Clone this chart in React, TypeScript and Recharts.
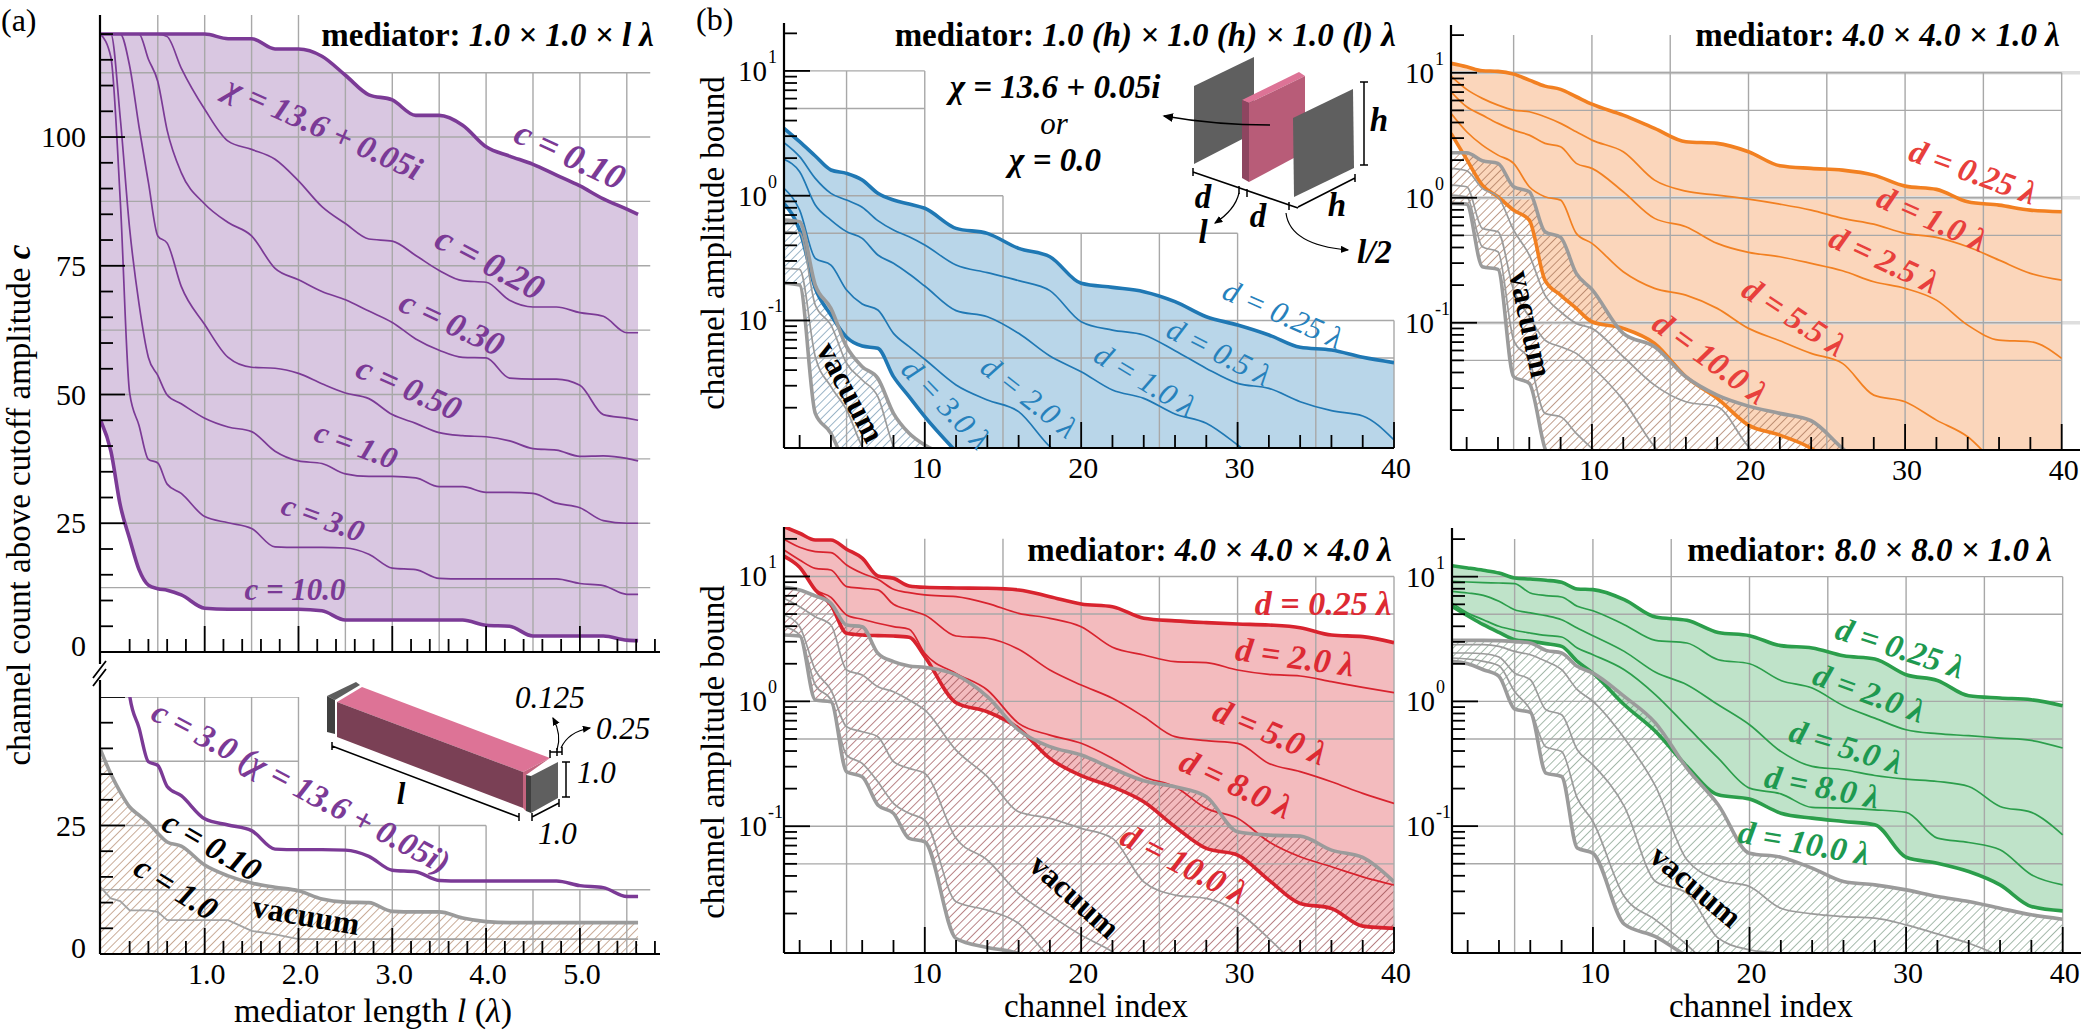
import { ComposedChart, Area, Line, XAxis, YAxis, ReferenceLine } from 'recharts';

const SERIF = '"Liberation Serif", serif';

// (a) mediator length sweep
const lengths = [-0.11, 0, 0.1, 0.2, 0.3, 0.4, 0.5, 0.6, 0.75, 1, 1.25, 1.5, 1.75, 2, 2.25, 2.5, 2.75, 3, 3.25, 3.5, 3.75, 4, 4.25, 4.5, 4.75, 5, 5.25, 5.5, 5.62];
const count010 = [120, 120, 120, 120, 120, 120, 120, 120, 120, 120, 119.1, 119.1, 117.1, 117.1, 115.7, 112, 108.2, 107.2, 104.2, 104.2, 102.3, 98.1, 96.3, 94.7, 92.6, 90.5, 88, 86, 85];
const count020 = [120, 120, 120, 120, 120, 120, 120, 119.5, 113.4, 105.4, 99.2, 97.6, 95.7, 91.5, 86.5, 83.2, 80.2, 79.8, 77, 74.1, 72.1, 71.8, 68.3, 67, 67, 65.9, 65.2, 62, 62];
const count030 = [120, 120, 120, 120, 120, 115.1, 110.8, 101.3, 93.1, 87, 83.4, 80.8, 74.5, 72.3, 70, 68.4, 66.2, 64, 60.8, 58.6, 57.2, 57.1, 53.2, 53, 53, 51.8, 46.1, 45.4, 45];
const count050 = [120, 120, 120, 113.8, 102, 91.2, 80.8, 79.4, 71, 63.6, 57.2, 55.3, 55.1, 54.1, 52.1, 50.3, 49.2, 46.1, 44.4, 42.6, 42, 41.8, 41, 39.5, 39.2, 38, 38.1, 37.6, 37.1];
const count100 = [120, 120, 103.7, 82.2, 67.6, 57.2, 53.7, 49.9, 48.2, 45.4, 43.7, 42.8, 39, 37.1, 36.6, 34.6, 34.1, 34.1, 33.8, 32.1, 32.1, 31, 31, 30.8, 28.9, 28, 25.5, 25, 25];
const count300 = [120, 115.5, 87.7, 50.3, 44, 37.4, 36.7, 32.6, 30.8, 26.3, 25.1, 24, 20.4, 20.3, 20.3, 20.2, 19, 16.3, 16, 14.3, 14.2, 14.2, 14.2, 14.2, 14.2, 13.3, 12.9, 11.2, 11.2];
const count1000 = [45, 39, 28.5, 22, 16, 13, 12.3, 12, 11.1, 8.5, 8.3, 8.3, 8.3, 8.3, 8, 6.2, 6.2, 6.2, 6.2, 6.2, 6.2, 5.2, 5, 3.1, 3.1, 3.1, 3.1, 2.3, 2.2];
const vacuumCount010 = [39.7, 35, 31.5, 28.6, 27, 25.5, 23.5, 21.8, 21, 17.3, 15.2, 13.8, 13, 12.3, 10.7, 10.1, 10, 8.3, 8.2, 8.2, 7, 6.3, 6.1, 6.1, 6.1, 6.1, 6.1, 6.1, 6.1];
const vacuumCount100 = [13, 10.8, 10.3, 8.5, 8.5, 8.5, 8.2, 6.6, 6.6, 6.6, 6.6, 4.5, 3.8, 2.9, 2.9, 2.9, 2.9, 2.9, 2.9, 2.9, 2.9, 2.9, 2.9, 2.9, 2.9, 2.9, 2.9, 2.9, 2.9];
const lengthTicks = [0.2, 0.4, 0.6, 0.8, 1, 1.2, 1.4, 1.6, 1.8, 2, 2.2, 2.4, 2.6, 2.8, 3, 3.2, 3.4, 3.6, 3.8, 4, 4.2, 4.4, 4.6, 4.8, 5, 5.2, 5.4, 5.6, 5.8];
const countTicksTop = [0, 5, 10, 15, 20, 25, 30, 35, 40, 45, 50, 55, 60, 65, 70, 75, 80, 85, 90, 95, 100, 105, 110, 115, 120];
const countTicksBottom = [0, 5, 10, 15, 20, 25, 30, 35, 40, 45, 50];

// (b) amplitudes per channel, written as log10 of the bound
const channels = [1, 2, 3, 4, 5, 6, 7, 8, 9, 10, 12, 14, 16, 18, 20, 22, 24, 26, 28, 30, 32, 34, 36, 38, 40];
const channelTicks = [2, 4, 6, 8, 10, 12, 14, 16, 18, 20, 22, 24, 26, 28, 30, 32, 34, 36, 38, 40];
const amplitudeTicks = [0.02, 0.03, 0.04, 0.05, 0.06, 0.07, 0.08, 0.09, 0.1, 0.2, 0.3, 0.4, 0.5, 0.6, 0.7, 0.8, 0.9, 1, 2, 3, 4, 5, 6, 7, 8, 9, 10, 20];

const blueBounds = [
  [0.54, 0.433, 0.318, 0.206, 0.179, 0.126, 0.019, -0.035, -0.067, -0.101, -0.262, -0.302, -0.422, -0.489, -0.702, -0.735, -0.769, -0.849, -0.97, -1.036, -1.116, -1.215, -1.237, -1.295, -1.338],
  [0.425, 0.313, 0.139, 0.019, -0.035, -0.093, -0.2, -0.275, -0.329, -0.395, -0.556, -0.617, -0.681, -0.761, -1.01, -1.077, -1.116, -1.242, -1.384, -1.504, -1.544, -1.651, -1.723, -1.765, -1.958],
  [0.291, 0.192, -0.075, -0.195, -0.288, -0.342, -0.475, -0.542, -0.628, -0.724, -0.921, -0.97, -1.103, -1.285, -1.41, -1.557, -1.624, -1.749, -1.824, -1.998, -2.2],
  [0.059, -0.115, -0.502, -0.556, -0.756, -0.868, -0.916, -1.103, -1.21, -1.311, -1.517, -1.637, -1.731, -2.011, -2.2],
  [-0.061, -0.275, -0.743, -0.956, -1.135, -1.205, -1.223, -1.45, -1.611, -1.771, -2.05, -2.3],
];
const blueVacuum = [
  [-0.195, -0.208, -0.716, -0.903, -1.21, -1.37, -1.464, -1.744, -1.904, -1.998, -2.1],
  [-0.288, -0.296, -0.876, -1.036, -1.343, -1.477, -1.611, -2.011, -2.2],
  [-0.582, -0.59, -1.29, -1.53, -1.717, -2.011, -2.2],
  [-0.702, -0.716, -1.744, -1.904, -2.2],
];

const orangeBounds = [
  [1.075, 1.048, 1.016, 1.011, 0.989, 0.941, 0.893, 0.867, 0.808, 0.749, 0.661, 0.555, 0.448, 0.435, 0.368, 0.256, 0.235, 0.221, 0.181, 0.093, 0.067, -0.032, -0.059, -0.099, -0.112],
  [0.973, 0.867, 0.795, 0.741, 0.701, 0.688, 0.648, 0.595, 0.528, 0.461, 0.368, 0.141, 0.053, 0.021, -0.011, -0.051, -0.099, -0.165, -0.211, -0.285, -0.317, -0.392, -0.499, -0.605, -0.659],
  [0.848, 0.728, 0.661, 0.595, 0.541, 0.501, 0.435, 0.408, 0.275, 0.235, 0.048, -0.165, -0.232, -0.365, -0.437, -0.472, -0.525, -0.584, -0.672, -0.725, -0.819, -1.019, -1.139, -1.152, -1.285],
  [0.675, 0.528, 0.421, 0.341, 0.275, 0.088, 0.008, -0.019, -0.285, -0.365, -0.592, -0.725, -0.779, -0.885, -1.045, -1.144, -1.245, -1.325, -1.579, -1.632, -1.779, -1.912, -2.15, -2.3, -2.45],
  [0.515, 0.307, 0.101, 0.008, -0.099, -0.179, -0.659, -0.779, -0.885, -0.992, -1.045, -1.165, -1.432, -1.605, -1.819, -1.899, -2.005, -2.2],
];
const orangeVacuum = [
  [0.36, 0.36, 0.296, 0.275, 0.088, 0.048, -0.272, -0.317, -0.605, -0.733, -1.085, -1.192, -1.432, -1.579, -1.667, -1.725, -1.784, -2.005, -2.2],
  [0.235, 0.216, 0.075, 0.008, -0.259, -0.459, -0.779, -0.912, -1.005, -1.045, -1.272, -1.499, -1.632, -1.672, -1.992, -2.2],
  [0.101, 0.088, -0.245, -0.272, -0.739, -0.952, -1.139, -1.192, -1.245, -1.352, -1.619, -1.992, -2.2],
  [0.021, 0.008, -0.392, -0.432, -1.139, -1.299, -1.725, -1.752, -1.885, -2.005, -2.2],
  [-0.045, -0.051, -0.552, -0.573, -1.432, -1.485, -2.005, -2.2],
];

const redBounds = [
  [1.399, 1.346, 1.292, 1.292, 1.218, 1.146, 1.004, 0.985, 0.924, 0.913, 0.908, 0.905, 0.892, 0.838, 0.78, 0.758, 0.665, 0.644, 0.63, 0.619, 0.611, 0.59, 0.531, 0.518, 0.47],
  [1.298, 1.234, 1.199, 1.191, 1.092, 1.025, 0.977, 0.897, 0.87, 0.852, 0.838, 0.785, 0.705, 0.665, 0.598, 0.433, 0.371, 0.318, 0.31, 0.251, 0.216, 0.203, 0.158, 0.112, 0.069],
  [1.212, 1.132, 1.065, 1.052, 0.919, 0.905, 0.892, 0.777, 0.732, 0.692, 0.523, 0.505, 0.417, 0.251, 0.131, 0.024, -0.123, -0.283, -0.315, -0.336, -0.497, -0.563, -0.644, -0.737, -0.817],
  [1.172, 1.079, 0.897, 0.833, 0.692, 0.657, 0.625, 0.598, 0.577, 0.385, 0.224, 0.091, -0.176, -0.27, -0.336, -0.457, -0.603, -0.684, -0.857, -0.937, -1.124, -1.244, -1.324, -1.405, -1.471],
  [1.159, 1.073, 0.892, 0.772, 0.545, 0.531, 0.526, 0.523, 0.513, 0.358, -0.011, -0.083, -0.216, -0.457, -0.595, -0.684, -0.804, -1.004, -1.178, -1.231, -1.431, -1.618, -1.658, -1.8, -1.818],
];
const redVacuum = [
  [0.913, 0.892, 0.844, 0.785, 0.611, 0.598, 0.385, 0.318, 0.283, 0.272, 0.211, 0.037, -0.23, -0.363, -0.43, -0.537, -0.636, -0.684, -0.764, -1.044, -1.071, -1.079, -1.191, -1.25, -1.445],
  [0.825, 0.758, 0.678, 0.611, 0.251, 0.211, 0.117, 0.077, 0.011, -0.069, -0.39, -0.603, -0.884, -0.937, -1.017, -1.097, -1.445, -1.551, -1.578, -1.685, -1.899, -2.15],
  [0.692, 0.598, 0.251, 0.091, -0.203, -0.243, -0.283, -0.483, -0.537, -0.577, -1.097, -1.271, -1.538, -1.712, -1.872, -2.005, -2.2],
  [0.598, 0.531, 0.131, 0.011, -0.43, -0.497, -0.644, -0.817, -0.897, -0.951, -1.605, -1.672, -1.778, -2.05, -2.2],
  [0.531, 0.523, 0.011, -0.003, -0.563, -0.603, -0.83, -0.897, -1.097, -1.124, -1.899, -1.971, -2.02, -2.2],
];

const greenBounds = [
  [1.088, 1.07, 1.051, 1.029, 0.989, 0.981, 0.971, 0.955, 0.901, 0.896, 0.816, 0.676, 0.65, 0.553, 0.527, 0.447, 0.428, 0.366, 0.34, 0.214, 0.168, 0.045, 0.027, 0.013, -0.035],
  [0.963, 0.957, 0.952, 0.949, 0.944, 0.869, 0.848, 0.837, 0.762, 0.727, 0.615, 0.489, 0.468, 0.334, 0.302, 0.168, 0.107, -0.035, -0.134, -0.227, -0.259, -0.275, -0.294, -0.313, -0.374],
  [0.882, 0.869, 0.85, 0.802, 0.735, 0.709, 0.687, 0.655, 0.588, 0.527, 0.401, 0.233, 0.134, -0.027, -0.187, -0.401, -0.521, -0.548, -0.594, -0.623, -0.642, -0.682, -0.842, -0.89, -1.07],
  [0.789, 0.709, 0.655, 0.602, 0.57, 0.548, 0.529, 0.516, 0.428, 0.374, 0.254, 0.053, -0.201, -0.455, -0.695, -0.741, -0.85, -0.856, -0.869, -0.89, -1.096, -1.131, -1.19, -1.39, -1.471],
  [0.762, 0.687, 0.615, 0.553, 0.495, 0.481, 0.463, 0.441, 0.321, 0.227, -0.027, -0.241, -0.521, -0.749, -0.783, -0.896, -0.936, -0.963, -0.989, -1.249, -1.297, -1.364, -1.471, -1.644, -1.679],
];
const greenVacuum = [
  [0.489, 0.489, 0.489, 0.487, 0.479, 0.468, 0.409, 0.388, 0.281, 0.227, 0.04, -0.174, -0.535, -0.829, -1.217, -1.249, -1.337, -1.444, -1.471, -1.511, -1.564, -1.604, -1.658, -1.711, -1.746],
  [0.455, 0.455, 0.455, 0.441, 0.401, 0.374, 0.321, 0.254, 0.094, 0, -0.294, -0.682, -1.27, -1.43, -1.484, -1.658, -1.703, -1.725, -1.738, -1.791, -1.864, -1.939, -2.045, -2.2],
  [0.388, 0.388, 0.382, 0.356, 0.227, 0.174, -0.067, -0.107, -0.388, -0.508, -0.842, -1.444, -1.537, -1.898, -1.992, -2.024, -2.2],
  [0.348, 0.34, 0.321, 0.286, 0.08, -0.067, -0.366, -0.401, -0.775, -0.963, -1.564, -1.751, -1.952, -2.2],
  [0.321, 0.302, 0.254, 0.201, -0.061, -0.088, -0.575, -0.602, -1.176, -1.217, -1.786, -1.885, -2.045, -2.2],
];

const FLOOR = 0.001;
const amp = (e?: number) => (e === undefined ? null : 10 ** e);

const buildRows = (bounds: number[][], vacuum: number[][]) =>
  channels.map((channel, i) => {
    const row: any = { channel };
    bounds.forEach((s, k) => (row[`s${k}`] = amp(s[i])));
    vacuum.forEach((s, k) => (row[`v${k}`] = amp(s[i])));
    const top = amp(bounds[0][i]);
    const low = amp(bounds[bounds.length - 1][i]);
    row.fill = top === null ? null : [low ?? FLOOR, top];
    const vTop = amp(vacuum[0][i]);
    const vLow = amp(vacuum[vacuum.length - 1][i]);
    row.hatch = vTop === null ? null : [vLow ?? FLOOR, vTop];
    return row;
  });

const XTick = ({ x, y, payload, labels }: any) => {
  const v = payload.value;
  const major = labels.step ? v % labels.step === 0 : Math.abs(v - Math.round(v)) < 0.01;
  return (
    <g>
      <line x1={x} x2={x} y1={y} y2={y - (major ? 26 : 13)} stroke="#000" strokeWidth={1.8} />
      {major && labels.show && (
        <text x={x + labels.dx} y={y + 30} textAnchor="middle" fontFamily={SERIF} fontSize={30}>
          {labels.step ? v : v.toFixed(1)}
        </text>
      )}
    </g>
  );
};

const CountTick = ({ x, y, payload, labels }: any) => {
  const v = payload.value;
  const major = v % 25 === 0;
  return (
    <g>
      {v > 0 && <line x1={x} x2={x + (major ? 25 : 13)} y1={y} y2={y} stroke="#000" strokeWidth={1.8} />}
      {major && labels.includes(v) && (
        <text x={x - 14} y={y + (v === 0 ? 4 : 10)} textAnchor="end" fontFamily={SERIF} fontSize={30}>
          {v}
        </text>
      )}
    </g>
  );
};

const LogTick = ({ x, y, payload }: any) => {
  const exp = Math.log10(payload.value);
  const major = Math.abs(exp - Math.round(exp)) < 1e-6;
  return (
    <g>
      <line x1={x} x2={x + (major ? 26 : 13)} y1={y} y2={y} stroke="#000" strokeWidth={1.8} />
      {major && (
        <>
          <text x={x - 17} y={y + 10} textAnchor="end" fontFamily={SERIF} fontSize={29}>10</text>
          <text x={x - 16} y={y - 8} fontFamily={SERIF} fontSize={18}>{Math.round(exp)}</text>
        </>
      )}
    </g>
  );
};

const gridStroke = '#a8a8a8';

const AmplitudePanel = ({ left, top, width, height, xMax, eTop, eBottom, bounds, vacuum, color, fillColor, hatchId, gridH, gridV, bands = [] }: any) => {
  const rows = buildRows(bounds, vacuum);
  const yDomain = [10 ** eBottom, 10 ** eTop];
  return (
    <div style={{ position: 'absolute', left: left - 60, top }}>
      <ComposedChart width={width + 60 + 20} height={height + 44} data={rows} margin={{ top: 0, right: 20, bottom: 0, left: 0 }}>
        <XAxis
          dataKey="channel"
          type="number"
          domain={[1, xMax]}
          ticks={channelTicks}
          interval={0}
          allowDataOverflow
          height={44}
          tickSize={0}
          tickMargin={0}
          tickLine={false}
          axisLine={{ stroke: '#000', strokeWidth: 2.2 }}
          tick={(p: any) => <XTick {...p} labels={{ show: true, step: 10, dx: 2 }} />}
        />
        <YAxis
          type="number"
          scale="log"
          domain={yDomain}
          ticks={amplitudeTicks}
          interval={0}
          allowDataOverflow
          width={60}
          tickSize={0}
          tickMargin={0}
          tickLine={false}
          axisLine={{ stroke: '#000', strokeWidth: 2.2 }}
          tick={LogTick}
        />
        <Area dataKey="fill" type="monotone" fill={fillColor} fillOpacity={1} stroke="none" dot={false} activeDot={false} isAnimationActive={false} />
        {bands.map((v: number) => (
          <ReferenceLine key={`b${v}`} segment={[{ x: 1, y: v }, { x: xMax, y: v }]} stroke="#dedede" strokeWidth={3.5} ifOverflow="visible" />
        ))}
        {gridH.map(([v, end]: number[]) => (
          <ReferenceLine key={`h${v}`} segment={[{ x: 1, y: v }, { x: end, y: v }]} stroke={gridStroke} strokeWidth={1.4} ifOverflow="visible" />
        ))}
        {gridV.map(([c, t]: number[]) => (
          <ReferenceLine key={`v${c}`} segment={[{ x: c, y: t }, { x: c, y: yDomain[0] }]} stroke={gridStroke} strokeWidth={1.4} ifOverflow="visible" />
        ))}
        {bounds.map((_: any, k: number) => (
          <Line key={k} dataKey={`s${k}`} type="monotone" stroke={color} strokeWidth={k === 0 || k === bounds.length - 1 ? 3.6 : 1.7} dot={false} activeDot={false} isAnimationActive={false} />
        ))}
        <Area dataKey="hatch" type="monotone" fill={`url(#${hatchId})`} fillOpacity={1} stroke="none" dot={false} activeDot={false} isAnimationActive={false} />
        {vacuum.map((_: any, k: number) => (
          <Line key={k} dataKey={`v${k}`} type="monotone" stroke="#9b9b9b" strokeWidth={k === 0 || k === vacuum.length - 1 ? 3.6 : 1.7} dot={false} activeDot={false} isAnimationActive={false} />
        ))}
      </ComposedChart>
    </div>
  );
};

const lengthRows = lengths.map((l, i) => ({
  l,
  c010: count010[i],
  c020: count020[i],
  c030: count030[i],
  c050: count050[i],
  c100: count100[i],
  c300: count300[i],
  c1000: count1000[i],
  v010: vacuumCount010[i],
  v100: vacuumCount100[i],
  purple: [count1000[i], count010[i]],
  hatch: [0, vacuumCount010[i]],
}));

const PURPLE = '#7b3a96';
const LENGTH_DOMAIN = [-0.116, 5.854];
const LENGTH_END = 5.75;

const LengthTop = () => (
  <div style={{ position: 'absolute', left: 40, top: 15 }}>
    <ComposedChart width={620} height={657} data={lengthRows} margin={{ top: 0, right: 0, bottom: 0, left: 0 }}>
      <XAxis dataKey="l" type="number" domain={LENGTH_DOMAIN} ticks={lengthTicks} interval={0} allowDataOverflow height={20} tickSize={0} tickMargin={0} tickLine={false} axisLine={{ stroke: '#000', strokeWidth: 2.2 }} tick={(p: any) => <XTick {...p} labels={{ show: false }} />} />
      <YAxis type="number" domain={[0, 123.7]} ticks={countTicksTop} interval={0} allowDataOverflow width={60} tickSize={0} tickMargin={0} tickLine={false} axisLine={{ stroke: '#000', strokeWidth: 2.2 }} tick={(p: any) => <CountTick {...p} labels={[0, 25, 50, 75, 100]} />} />
      <Area dataKey="purple" type="monotone" fill="#d9c7e1" fillOpacity={1} stroke="none" dot={false} activeDot={false} isAnimationActive={false} />
      {[12.5, 25, 37.5, 50, 62.5, 75, 87.5, 100, 112.5].map((v) => (
        <ReferenceLine key={v} segment={[{ x: LENGTH_DOMAIN[0], y: v }, { x: LENGTH_END, y: v }]} stroke={gridStroke} strokeWidth={1.4} ifOverflow="visible" />
      ))}
      {[0.5, 1, 1.5, 2].map((l) => (
        <ReferenceLine key={l} segment={[{ x: l, y: 123.7 }, { x: l, y: 0 }]} stroke={gridStroke} strokeWidth={1.4} ifOverflow="visible" />
      ))}
      {[2.5, 3, 3.5, 4, 4.5, 5, 5.5].map((l) => (
        <ReferenceLine key={l} segment={[{ x: l, y: 112.5 }, { x: l, y: 0 }]} stroke={gridStroke} strokeWidth={1.4} ifOverflow="visible" />
      ))}
      <Line dataKey="c010" type="monotone" stroke={PURPLE} strokeWidth={3.6} dot={false} activeDot={false} isAnimationActive={false} />
      {['c020', 'c030', 'c050', 'c100', 'c300'].map((k) => (
        <Line key={k} dataKey={k} type="monotone" stroke={PURPLE} strokeWidth={1.7} dot={false} activeDot={false} isAnimationActive={false} />
      ))}
      <Line dataKey="c1000" type="monotone" stroke={PURPLE} strokeWidth={3.6} dot={false} activeDot={false} isAnimationActive={false} />
    </ComposedChart>
  </div>
);

const LengthBottom = () => (
  <div style={{ position: 'absolute', left: 40, top: 697 }}>
    <ComposedChart width={620} height={301} data={lengthRows} margin={{ top: 0, right: 0, bottom: 0, left: 0 }}>
      <XAxis dataKey="l" type="number" domain={LENGTH_DOMAIN} ticks={lengthTicks} interval={0} allowDataOverflow height={44} tickSize={0} tickMargin={0} tickLine={false} axisLine={{ stroke: '#000', strokeWidth: 2.2 }} tick={(p: any) => <XTick {...p} labels={{ show: true, dx: 2 }} />} />
      <YAxis type="number" domain={[0, 50]} ticks={countTicksBottom} interval={0} allowDataOverflow width={60} tickSize={0} tickMargin={0} tickLine={false} axisLine={{ stroke: '#000', strokeWidth: 2.2 }} tick={(p: any) => <CountTick {...p} labels={[0, 25]} />} />
      {[[50, 2], [37.5, 2], [25, 4], [12.5, LENGTH_END]].map(([v, end]) => (
        <ReferenceLine key={v} segment={[{ x: LENGTH_DOMAIN[0], y: v }, { x: end, y: v }]} stroke={gridStroke} strokeWidth={1.4} ifOverflow="visible" />
      ))}
      {[[0.5, 50], [1, 50], [1.5, 50], [2, 50], [2.5, 25], [3, 25], [3.5, 25], [4, 25], [4.5, 12.5], [5, 12.5], [5.5, 12.5]].map(([l, t]) => (
        <ReferenceLine key={l} segment={[{ x: l, y: t }, { x: l, y: 0 }]} stroke={gridStroke} strokeWidth={1.4} ifOverflow="visible" />
      ))}
      <Area dataKey="hatch" type="monotone" fill="url(#hatchBrown)" fillOpacity={1} stroke="none" dot={false} activeDot={false} isAnimationActive={false} />
      <Line dataKey="c300" type="monotone" stroke={PURPLE} strokeWidth={3.4} dot={false} activeDot={false} isAnimationActive={false} />
      <Line dataKey="v100" type="linear" stroke="#a3a3a3" strokeWidth={1.8} dot={false} activeDot={false} isAnimationActive={false} />
      <Line dataKey="v010" type="monotone" stroke="#9b9b9b" strokeWidth={3.6} dot={false} activeDot={false} isAnimationActive={false} />
    </ComposedChart>
  </div>
);

const Note = ({ x, y, angle = 0, size = 31, color = '#000', bold = true, italic = true, anchor = 'middle', children }: any) => (
  <text
    x={x}
    y={y}
    transform={angle ? `rotate(${angle} ${x} ${y})` : undefined}
    textAnchor={anchor}
    dominantBaseline="central"
    fontFamily={SERIF}
    fontSize={size}
    fontWeight={bold ? 700 : 400}
    fontStyle={italic ? 'italic' : 'normal'}
    fill={color}
  >
    {children}
  </text>
);

const Title = ({ x, y, children }: any) => (
  <text x={x} y={y} textAnchor="end" fontFamily={SERIF} fontSize={33} fontWeight={700}>
    <tspan>mediator: </tspan>
    <tspan fontStyle="italic">{children}</tspan>
  </text>
);

const Hatch = ({ id, color }: any) => (
  <pattern id={id} width={5.8} height={5.8} patternUnits="userSpaceOnUse" patternTransform="rotate(45)">
    <line x1={0} y1={0} x2={0} y2={5.8} stroke={color} strokeWidth={1.25} />
  </pattern>
);

const Overlay = () => (
  <svg width={2083} height={1033} style={{ position: 'absolute', left: 0, top: 0, pointerEvents: 'none' }}>
    <defs>
      <Hatch id="hatchBrown" color="#aa7b5c" />
      <Hatch id="hatchBlue" color="#5f88a6" />
      <Hatch id="hatchOrange" color="#996347" />
      <Hatch id="hatchRed" color="#8f3a40" />
      <Hatch id="hatchGreen" color="#6f9079" />
      <marker id="arrow" markerWidth={8} markerHeight={8} refX={6} refY={3} orient="auto">
        <path d="M0,0 L7,3 L0,6 Z" fill="#000" />
      </marker>
    </defs>

    <Note x={1} y={20} size={32} bold={false} italic={false} anchor="start">(a)</Note>
    <Note x={696} y={19} size={32} bold={false} italic={false} anchor="start">(b)</Note>

    {/* axis break */}
    <path d="M100,652 V664 M100,680 V697" stroke="#000" strokeWidth={2.2} fill="none" />
    <path d="M93,678 L106,661 M93,686 L106,669" stroke="#000" strokeWidth={1.8} fill="none" />

    <Title x={654} y={46}>1.0 × 1.0 × l λ</Title>
    <Title x={1396} y={46}>1.0 (h) × 1.0 (h) × 1.0 (l) λ</Title>
    <Title x={2060} y={46}>4.0 × 4.0 × 1.0 λ</Title>
    <Title x={1392} y={561}>4.0 × 4.0 × 4.0 λ</Title>
    <Title x={2052} y={561}>8.0 × 8.0 × 1.0 λ</Title>

    <text transform="translate(30,505) rotate(-90)" textAnchor="middle" fontFamily={SERIF} fontSize={33}>
      channel count above cutoff amplitude <tspan fontStyle="italic" fontWeight={700}>c</tspan>
    </text>
    <text x={373} y={1022} textAnchor="middle" fontFamily={SERIF} fontSize={34}>
      mediator length <tspan fontStyle="italic">l</tspan> (<tspan fontStyle="italic">λ</tspan>)
    </text>
    <text transform="translate(724,243) rotate(-90)" textAnchor="middle" fontFamily={SERIF} fontSize={33}>channel amplitude bound</text>
    <text transform="translate(724,752) rotate(-90)" textAnchor="middle" fontFamily={SERIF} fontSize={33}>channel amplitude bound</text>
    <text x={1096} y={1017} textAnchor="middle" fontFamily={SERIF} fontSize={33}>channel index</text>
    <text x={1761} y={1017} textAnchor="middle" fontFamily={SERIF} fontSize={33}>channel index</text>

    {/* panel (a) notes */}
    <Note x={324} y={128} angle={24} size={33} color={PURPLE}>χ = 13.6 + 0.05i</Note>
    <Note x={570} y={155} angle={25} size={36} color={PURPLE}>c = 0.10</Note>
    <Note x={490} y={263} angle={28} size={36} color={PURPLE}>c = 0.20</Note>
    <Note x={452} y={323} angle={25} size={34} color={PURPLE}>c = 0.30</Note>
    <Note x={409} y={388} angle={24} size={34} color={PURPLE}>c = 0.50</Note>
    <Note x={356} y={445} angle={20} color={PURPLE}>c = 1.0</Note>
    <Note x={323} y={518} angle={20} color={PURPLE}>c = 3.0</Note>
    <Note x={295} y={589} color={PURPLE}>c = 10.0</Note>
    <Note x={301} y={787} angle={28} size={33} color={PURPLE}>c = 3.0 (χ = 13.6 + 0.05i)</Note>
    <Note x={212} y={846} angle={30} size={33}>c = 0.10</Note>
    <Note x={176} y={888} angle={32} size={33}>c = 1.0</Note>
    <Note x={306} y={915} angle={10} italic={false} size={32}>vacuum</Note>

    {/* panel (a) inset */}
    <polygon points="337,702 362,687 550,758 523,772" fill="#dd7396" />
    <polygon points="337,702 523,772 523,808 337,737" fill="#7a4055" />
    <polygon points="523,772 550,758 526,775 526,811 523,808" fill="#c4647f" />
    <polygon points="327,696 356,682 360,685 335,700" fill="#5e5e5e" />
    <polygon points="327,696 335,700 335,734 327,732" fill="#404040" />
    <polygon points="526,775 531,776 531,813 526,811" fill="#3f3f3f" />
    <polygon points="531,776 558,762 558,798 531,813" fill="#5f5f5f" />
    <path d="M332,746 L519,817 M332,742 V750 M519,813 V821 M566,762 V797 M562,762 H570 M562,797 H570 M532,817 L559,803 M532,813 V821 M559,799 V807 M550,750 V758 M557,748 V756 M562,747 V755 M550,752 H562" stroke="#000" strokeWidth={1.5} fill="none" />
    <path d="M557,750 Q562,735 553,718" stroke="#000" strokeWidth={1.2} fill="none" markerEnd="url(#arrow)" />
    <path d="M561,748 Q568,732 590,728" stroke="#000" strokeWidth={1.2} fill="none" markerEnd="url(#arrow)" />
    <Note x={401} y={793}>l</Note>
    <Note x={515} y={697} bold={false} anchor="start">0.125</Note>
    <Note x={596} y={728} bold={false} anchor="start">0.25</Note>
    <Note x={577} y={772} bold={false} anchor="start">1.0</Note>
    <Note x={538} y={833} bold={false} anchor="start">1.0</Note>

    {/* blue panel notes and inset */}
    <Note x={1055} y={87} size={33}>χ = 13.6 + 0.05i</Note>
    <Note x={1054} y={123} bold={false} size={31}>or</Note>
    <Note x={1055} y={160} size={33}>χ = 0.0</Note>
    <polygon points="1194,86 1254,57 1254,133 1194,164" fill="#5f5f5f" />
    <polygon points="1242,100 1299,72 1305,76 1249,103" fill="#dd7396" />
    <polygon points="1242,100 1249,103 1249,182 1242,178" fill="#8e4560" />
    <polygon points="1249,103 1305,76 1305,152 1249,182" fill="#b85c78" />
    <polygon points="1293,118 1353,89 1354,168 1294,197" fill="#5f5f5f" />
    <path d="M1270,125 Q1215,125 1164,116" stroke="#000" strokeWidth={1.5} fill="none" markerEnd="url(#arrow)" />
    <path d="M1364,82 V165 M1360,82 H1368 M1360,165 H1368 M1193,172 L1298,208 M1193,168 V176 M1298,207 L1355,178 M1355,174 V182 M1239,186 V194 M1247,189 V197 M1289,202 V210" stroke="#000" strokeWidth={1.5} fill="none" />
    <path d="M1239,193 Q1235,210 1215,223" stroke="#000" strokeWidth={1.2} fill="none" markerEnd="url(#arrow)" />
    <path d="M1286,213 Q1290,245 1348,250" stroke="#000" strokeWidth={1.2} fill="none" markerEnd="url(#arrow)" />
    <Note x={1379} y={120} size={33}>h</Note>
    <Note x={1337} y={205} size={33}>h</Note>
    <Note x={1203} y={197} size={33}>d</Note>
    <Note x={1258} y={216} size={33}>d</Note>
    <Note x={1203} y={232} size={33}>l</Note>
    <Note x={1357} y={252} size={33} anchor="start">l/2</Note>

    <Note x={1283} y={314} angle={24} color="#2681bc" bold={false}>d = 0.25 λ</Note>
    <Note x={1219} y={352} angle={27} color="#2681bc" bold={false}>d = 0.5 λ</Note>
    <Note x={1145} y={380} angle={31} color="#2681bc" bold={false}>d = 1.0 λ</Note>
    <Note x={1029} y={397} angle={38} color="#2681bc" bold={false}>d = 2.0 λ</Note>
    <Note x={946} y={404} angle={46} color="#2681bc" bold={false}>d = 3.0 λ</Note>
    <Note x={851} y={392} angle={62} italic={false} size={32}>vacuum</Note>

    {/* orange panel */}
    <Note x={1973} y={172} angle={20} size={33} color="#e8403c">d = 0.25 λ</Note>
    <Note x={1932} y={219} angle={24} size={33} color="#e8403c">d = 1.0 λ</Note>
    <Note x={1884} y={260} angle={25} size={33} color="#e8403c">d = 2.5 λ</Note>
    <Note x={1794} y={317} angle={33} size={33} color="#e8403c">d = 5.5 λ</Note>
    <Note x={1710} y={358} angle={36} size={33} color="#e8403c">d = 10.0 λ</Note>
    <Note x={1531} y={324} angle={78} italic={false} size={32}>vacuum</Note>

    {/* red panel */}
    <Note x={1323} y={603} size={34} color="#dd2a33">d = 0.25 λ</Note>
    <Note x={1295} y={657} angle={8} size={34} color="#dd2a33">d = 2.0 λ</Note>
    <Note x={1270} y={732} angle={23} size={34} color="#dd2a33">d = 5.0 λ</Note>
    <Note x={1236} y={784} angle={25} size={34} color="#dd2a33">d = 8.0 λ</Note>
    <Note x={1184} y={864} angle={27} size={34} color="#dd2a33">d = 10.0 λ</Note>
    <Note x={1075} y={896} angle={42} italic={false} size={32}>vacuum</Note>

    {/* green panel */}
    <Note x={1900} y={648} angle={18} size={33} color="#1e9950">d = 0.25 λ</Note>
    <Note x={1869} y={693} angle={20} size={33} color="#1e9950">d = 2.0 λ</Note>
    <Note x={1846} y={747} angle={17} size={33} color="#1e9950">d = 5.0 λ</Note>
    <Note x={1822} y={787} angle={11} size={33} color="#1e9950">d = 8.0 λ</Note>
    <Note x={1804} y={843} angle={10} size={33} color="#1e9950">d = 10.0 λ</Note>
    <Note x={1696} y={886} angle={40} italic={false} size={32}>vacuum</Note>
  </svg>
);

const stepGrid = [[10, 40], [5, 40], [1, 40], [0.5, 40], [0.1, 40], [0.05, 40]];

export default function App() {
  return (
    <div style={{ position: 'absolute', left: 0, top: 0, width: 2083, height: 1033, background: '#fff', overflow: 'hidden' }}>
      <LengthTop />
      <LengthBottom />
      <AmplitudePanel
        left={784} top={23} width={610} height={425} xMax={40} eTop={1.384} eBottom={-2.022}
        bounds={blueBounds} vacuum={blueVacuum} color="#1f78b4" fillColor="#b9d6e9" hatchId="hatchBlue"
        gridH={[[10, 10], [5, 10], [1, 15], [0.5, 30], [0.1, 40], [0.05, 40]]}
        gridV={[[5, 10], [10, 10], [15, 1], [20, 0.5], [25, 0.5], [30, 0.5], [35, 0.1], [40, 0.1]]}
      />
      <AmplitudePanel
        left={1451} top={25} width={629} height={425} xMax={41.17} eTop={1.382} eBottom={-2.018}
        bounds={orangeBounds} vacuum={orangeVacuum} color="#f28021" fillColor="#fbd6bb" hatchId="hatchOrange"
        gridH={stepGrid} bands={[10, 1, 0.1]}
        gridV={[[5, 20], [10, 20], [15, 20], [20, 10], [25, 10], [30, 10], [35, 10], [40, 10]]}
      />
      <AmplitudePanel
        left={784} top={527} width={610} height={426} xMax={40} eTop={1.396} eBottom={-2.015}
        bounds={redBounds} vacuum={redVacuum} color="#d8232e" fillColor="#f3bbbe" hatchId="hatchRed"
        gridH={stepGrid}
        gridV={[[5, 20], [10, 20], [15, 20], [20, 10], [25, 10], [30, 10], [35, 10], [40, 10]]}
      />
      <AmplitudePanel
        left={1452} top={528} width={629} height={425} xMax={41.17} eTop={1.39} eBottom={-2.017}
        bounds={greenBounds} vacuum={greenVacuum} color="#2b9e4b" fillColor="#bfe3c9" hatchId="hatchGreen"
        gridH={stepGrid}
        gridV={[[5, 20], [10, 20], [15, 20], [20, 10], [25, 10], [30, 10], [35, 10], [40, 10]]}
      />
      <Overlay />
    </div>
  );
}
